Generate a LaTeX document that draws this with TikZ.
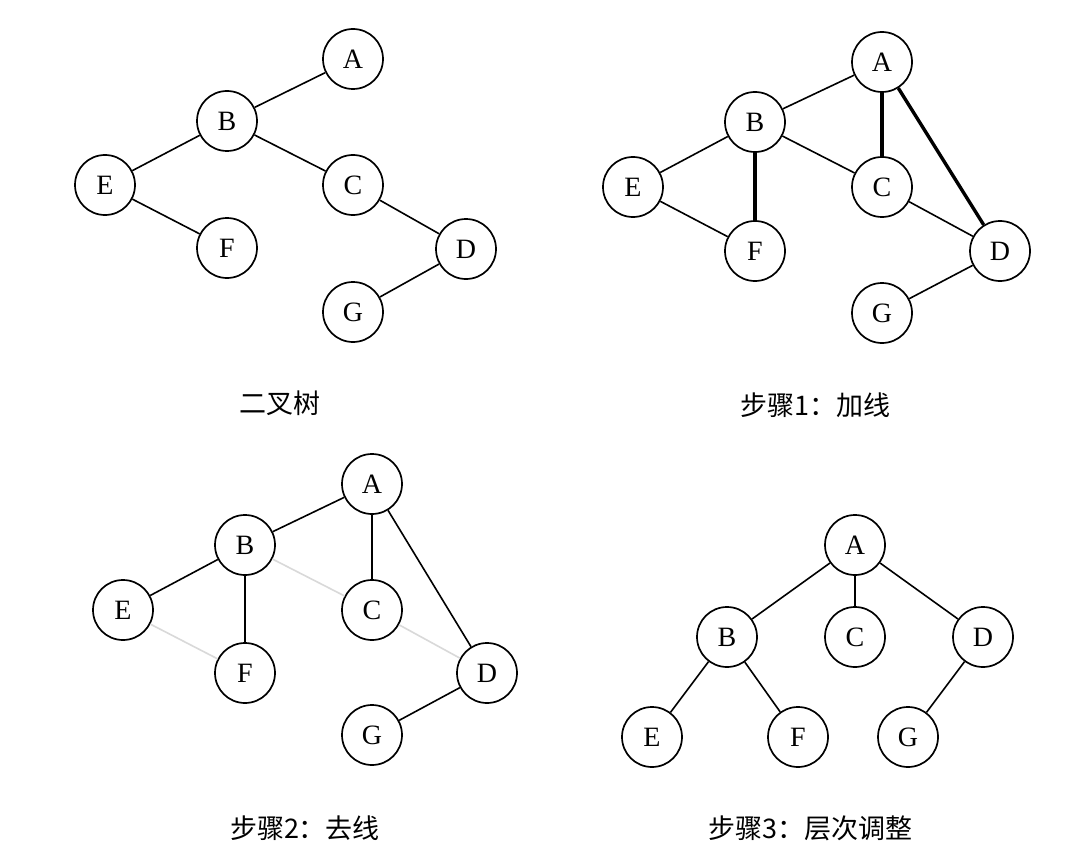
\documentclass[tikz,border=0pt]{standalone}
\usepackage{fontspec}
\setmainfont{Liberation Serif}
\newfontfamily\cjk{Noto Sans CJK SC}
\begin{document}
\begin{tikzpicture}[x=1pt,y=-1pt,
  vtx/.style={circle,draw,line width=1.7pt,minimum size=60pt,inner sep=0pt,fill=white,font=\fontsize{28}{28}\selectfont},
  edge/.style={line width=1.6pt},
  heavy/.style={line width=3.4pt},
  removed/.style={line width=1.6pt,black!15},
  caption/.style={font=\cjk\fontsize{27}{27}\selectfont}]
\fill[white] (0,0) rectangle (1067,861);
\useasboundingbox (0,0) rectangle (1067,861);
% Panel 1: binary tree
\node[vtx] (a1) at (353,59) {A};
\node[vtx] (b1) at (227,121) {B};
\node[vtx] (e1) at (105,185) {E};
\node[vtx] (c1) at (353,185) {C};
\node[vtx] (f1) at (227,248) {F};
\node[vtx] (d1) at (466,249) {D};
\node[vtx] (g1) at (353,312) {G};
\draw[edge] (a1) -- (b1);
\draw[edge] (b1) -- (e1);
\draw[edge] (b1) -- (c1);
\draw[edge] (e1) -- (f1);
\draw[edge] (c1) -- (d1);
\draw[edge] (d1) -- (g1);
\node[caption] (t1) at (280,403) {二叉树};
% Panel 2: add lines
\node[vtx] (a2) at (882,62) {A};
\node[vtx] (b2) at (755,122) {B};
\node[vtx] (e2) at (633,187) {E};
\node[vtx] (c2) at (882,187) {C};
\node[vtx] (f2) at (755,251) {F};
\node[vtx] (d2) at (1000,251) {D};
\node[vtx] (g2) at (882,313) {G};
\draw[edge] (a2) -- (b2);
\draw[edge] (b2) -- (e2);
\draw[edge] (b2) -- (c2);
\draw[edge] (e2) -- (f2);
\draw[edge] (c2) -- (d2);
\draw[edge] (d2) -- (g2);
\draw[heavy] (a2) -- (c2);
\draw[heavy] (a2) -- (d2);
\draw[heavy] (b2) -- (f2);
\node[caption] (t2) at (815,405) {步骤1：加线};
% Panel 3: remove lines
\node[vtx] (a3) at (372,484) {A};
\node[vtx] (b3) at (245,545) {B};
\node[vtx] (e3) at (123,610) {E};
\node[vtx] (c3) at (372,610) {C};
\node[vtx] (f3) at (245,673) {F};
\node[vtx] (d3) at (487,673) {D};
\node[vtx] (g3) at (372,735) {G};
\draw[removed] (b3) -- (c3);
\draw[removed] (e3) -- (f3);
\draw[removed] (c3) -- (d3);
\draw[edge] (a3) -- (b3);
\draw[edge] (b3) -- (e3);
\draw[edge] (b3) -- (f3);
\draw[edge] (a3) -- (c3);
\draw[edge] (a3) -- (d3);
\draw[edge] (d3) -- (g3);
\node[caption] (t3) at (305,828) {步骤2：去线};
% Panel 4: level adjust
\node[vtx] (a4) at (855,545) {A};
\node[vtx] (b4) at (727,637) {B};
\node[vtx] (c4) at (855,637) {C};
\node[vtx] (d4) at (983,637) {D};
\node[vtx] (e4) at (652,737) {E};
\node[vtx] (f4) at (798,737) {F};
\node[vtx] (g4) at (908,737) {G};
\draw[edge] (a4) -- (b4);
\draw[edge] (a4) -- (c4);
\draw[edge] (a4) -- (d4);
\draw[edge] (b4) -- (e4);
\draw[edge] (b4) -- (f4);
\draw[edge] (d4) -- (g4);
\node[caption] (t4) at (810,828) {步骤3：层次调整};
\end{tikzpicture}
\end{document}
